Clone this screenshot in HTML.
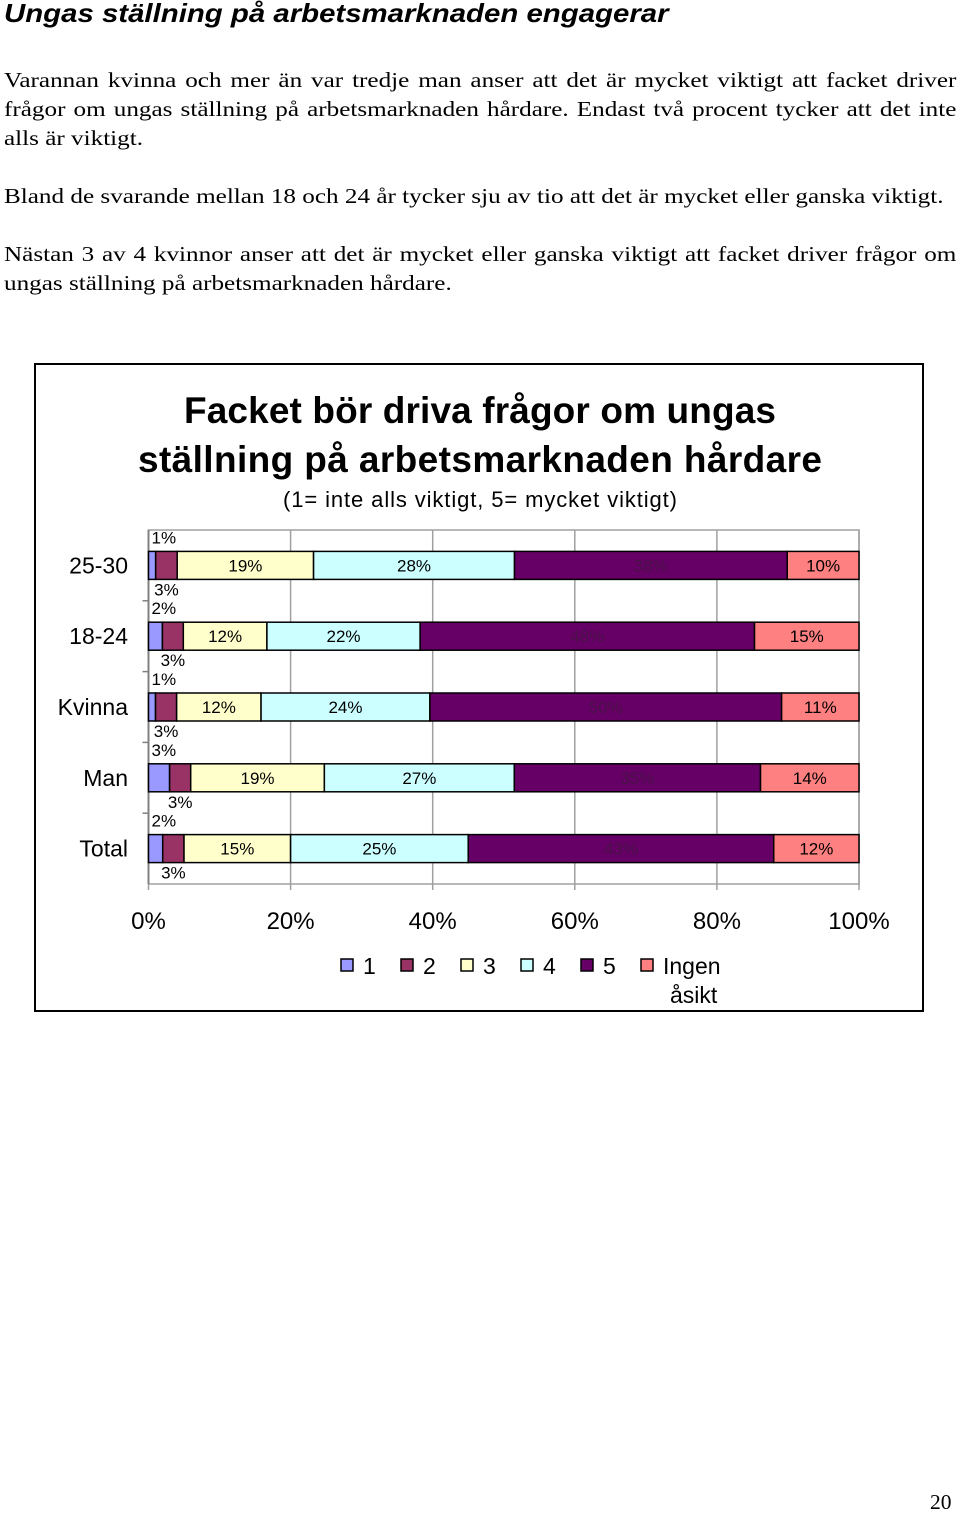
<!DOCTYPE html>
<html><head><meta charset="utf-8"><style>
body{margin:0;width:960px;height:1513px;background:#fff;position:relative;overflow:hidden}
.h{position:absolute;left:4px;top:-2px;font:italic bold 26px "Liberation Sans",sans-serif;color:#000;transform:scaleX(1.13);transform-origin:0 0;white-space:nowrap}
.l{position:absolute;left:4px;width:814px;font:21.5px "Liberation Serif",serif;color:#000;white-space:nowrap;line-height:29px;transform:scaleX(1.17);transform-origin:0 0}
.j{text-align:justify;text-align-last:justify}
svg text{font-family:"Liberation Sans",sans-serif}
</style></head><body>
<div class="h">Ungas ställning på arbetsmarknaden engagerar</div>
<div class="l j" style="top:66px">Varannan kvinna och mer än var tredje man anser att det är mycket viktigt att facket driver</div>
<div class="l j" style="top:95px">frågor om ungas ställning på arbetsmarknaden hårdare. Endast två procent tycker att det inte</div>
<div class="l" style="top:124px">alls är viktigt.</div>
<div class="l" style="top:182px">Bland de svarande mellan 18 och 24 år tycker sju av tio att det är mycket eller ganska viktigt.</div>
<div class="l j" style="top:240px">Nästan 3 av 4 kvinnor anser att det är mycket eller ganska viktigt att facket driver frågor om</div>
<div class="l" style="top:269px">ungas ställning på arbetsmarknaden hårdare.</div>
<div class="l" style="top:1488px;left:930px;width:30px;transform:none">20</div>

<svg id="chart" width="960" height="1513" style="position:absolute;left:0;top:0">
<rect x="35" y="364" width="888" height="647" fill="none" stroke="#000" stroke-width="2"/>
<text x="480" y="423" text-anchor="middle" font-size="37" font-weight="bold" textLength="592">Facket bör driva frågor om ungas</text>
<text x="480" y="472" text-anchor="middle" font-size="37" font-weight="bold" textLength="684">ställning på arbetsmarknaden hårdare</text>
<text x="480" y="507" text-anchor="middle" font-size="22" textLength="394">(1= inte alls viktigt, 5= mycket viktigt)</text>
<g id="plot"></g>
</svg>
<script>
const categories=["25-30","18-24","Kvinna","Man","Total"];
const s1=[1,2,1,3,2];
const s2=[3,3,3,3,3];
const s3=[19,12,12,19,15];
const s4=[28,22,24,27,25];
const s5=[38,48,50,35,43];
const s6=[10,15,11,14,12];
const seriesNames=["1","2","3","4","5","Ingen åsikt"];
const ticks=["0%","20%","40%","60%","80%","100%"];
const series=[s1,s2,s3,s4,s5,s6];
const colors=["#9999ff","#993366","#ffffcc","#ccffff","#660066","#ff8080"];
const labelColors=["#000","#000","#000","#000","#4a1048","#000"];
const NS="http://www.w3.org/2000/svg";
const g=document.getElementById("plot");
const X0=148.5,X1=859,Y0=530,Y1=884;
const xs=p=>X0+(X1-X0)*p/100;
const band=(Y1-Y0)/categories.length;
const yc=i=>Y0+band*(i+0.5);
function mk(t,a){const e=document.createElementNS(NS,t);for(const k in a)e.setAttribute(k,a[k]);g.appendChild(e);return e;}
let fr=mk("rect",{x:X0,y:Y0,width:X1-X0,height:Y1-Y0,fill:"none",stroke:"#a0a0a0","stroke-width":1.5});


ticks.forEach((t,i)=>{
 const x=xs(i*20);
 const gl=mk("line",{x1:x,x2:x,y1:Y0,y2:Y1+6,stroke:"#a0a0a0","stroke-width":1.5});
 
 
 const tl=mk("text",{x:x,y:929,"text-anchor":"middle","font-size":24});
 tl.textContent=t;
 
 
});
const ax=mk("line",{x1:X0,x2:X0,y1:Y0,y2:Y1,stroke:"#808080","stroke-width":2});


categories.forEach((c,i)=>{
 const ty=Y0+band*(i+1);
 if(i<categories.length-1){const tk=mk("line",{x1:X0-6,x2:X0,y1:ty,y2:ty,stroke:"#808080","stroke-width":1.5});
 
 }
 const cl=mk("text",{x:128,y:yc(i)+8,"text-anchor":"end","font-size":23});
 cl.textContent=c;
 
 
 const vals=series.map(s=>s[i]);const tot=vals.reduce((a,b)=>a+b,0);
 let acc=0;
 vals.forEach((v,k)=>{
  const xa=xs(acc/tot*100),xb=xs((acc+v)/tot*100);acc+=v;
  const r=mk("rect",{x:xa,y:yc(i)-14,width:xb-xa,height:28,fill:colors[k],stroke:"#000","stroke-width":1.5});
  
  
  const t=mk("text",{"font-size":17});
  t.textContent=v+"%";
  if(k===0){t.setAttribute("x",xa+3);t.setAttribute("y",yc(i)-22);}
  else if(k===1){t.setAttribute("x",(xa+xb)/2);t.setAttribute("y",yc(i)+30);t.setAttribute("text-anchor","middle");}
  else{t.setAttribute("x",(xa+xb)/2);t.setAttribute("y",yc(i)+6);t.setAttribute("text-anchor","middle");t.setAttribute("fill",labelColors[k]);}
  
  
 });
});
const lx=[341,401,461,521,581,641];
seriesNames.forEach((n,k)=>{
 const r=mk("rect",{x:lx[k],y:959,width:12,height:12,fill:colors[k],stroke:"#000","stroke-width":1.5});
 
 
 const t=mk("text",{x:lx[k]+22,y:974,"font-size":23});
 if(k===5){t.textContent="Ingen";const t2=mk("text",{x:lx[k]+29,y:1003,"font-size":23});t2.textContent="åsikt";
  
  }
 else t.textContent=n;
 
 
});
</script>
</body></html>
